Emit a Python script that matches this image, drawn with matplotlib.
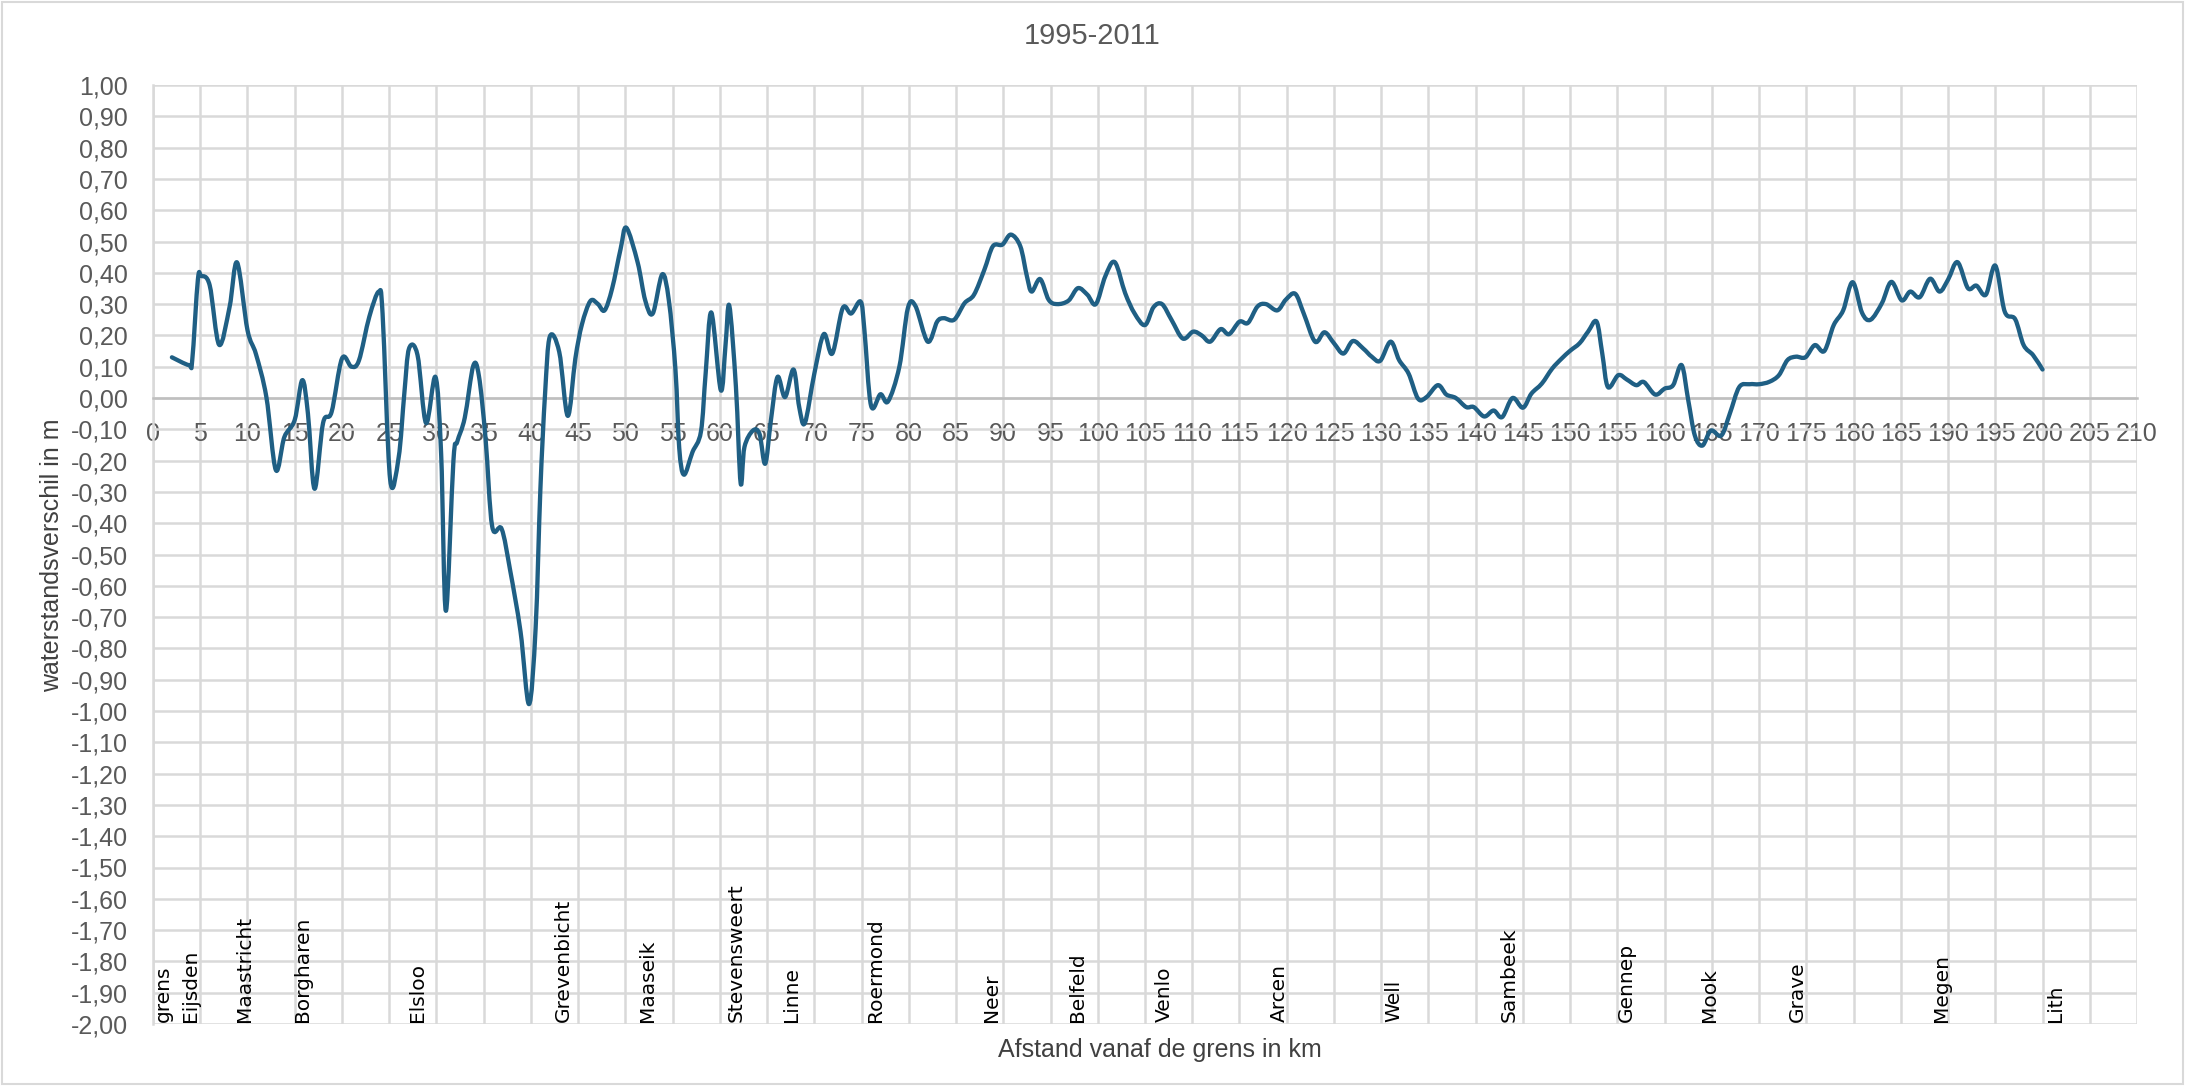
import numpy as np
import matplotlib
matplotlib.use("Agg")
import matplotlib.pyplot as plt
from matplotlib.patches import Rectangle, PathPatch
from matplotlib.path import Path
from matplotlib.ticker import FuncFormatter, MultipleLocator

km = [2.0, 3.8, 4.15, 4.75, 5.1, 6.0, 7.0, 8.1, 8.9, 10.0, 10.9, 12.0, 13.0, 13.9,
      15.0, 15.8, 16.4, 17.1, 18.0, 18.9, 20.0, 21.0, 21.8, 22.9, 23.9, 24.3, 25.1,
      26.0, 26.6, 27.1, 28.0, 28.9, 29.9, 30.5, 31.0, 31.8, 32.2, 33.0, 33.9, 34.5,
      35.2, 35.9, 36.9, 37.8, 38.9, 39.8, 40.5, 41.0, 41.5, 42.0, 43.0, 43.9, 44.7,
      45.4, 46.3, 47.1, 47.8, 48.6, 49.5, 50.1, 51.3, 52.1, 52.9, 53.9, 54.6, 55.3,
      55.7, 56.2, 57.1, 58.0, 58.5, 59.1, 60.1, 60.6, 61.0, 61.7, 62.2, 62.6, 63.5,
      64.2, 64.8, 65.4, 66.1, 66.9, 67.8, 68.4, 69.0, 70.0, 71.0, 71.9, 73.0, 73.9,
      74.9, 75.3, 76.0, 77.0, 77.8, 79.0, 79.9, 80.7, 82.0, 83.0, 83.7, 84.8, 85.9,
      86.9, 88.0, 88.9, 89.9, 90.8, 91.8, 92.5, 93.0, 93.9, 94.8, 95.7, 96.9, 97.9,
      98.9, 99.8, 100.8, 101.8, 102.9, 103.9, 105.0, 105.9, 106.8, 107.8, 109.0,
      110.1, 111.0, 111.9, 113.0, 113.9, 115.0, 115.9, 116.9, 117.8, 119.0, 119.9,
      120.9, 121.8, 123.0, 124.0, 125.0, 126.0, 127.0, 128.1, 129.0, 129.9, 131.0,
      131.9, 132.9, 133.9, 134.8, 136.0, 136.9, 137.9, 139.0, 139.8, 140.9, 141.9,
      142.8, 143.9, 145.0, 145.9, 147.0, 148.1, 149.1, 150.0, 151.0, 151.9, 152.8,
      153.4, 154.0, 155.1, 156.0, 157.0, 157.8, 159.0, 160.0, 160.9, 161.8, 162.5,
      163.2, 164.0, 164.9, 166.0, 166.9, 167.9, 169.0, 170.0, 171.1, 172.1, 173.0,
      173.9, 174.9, 175.9, 176.9, 177.9, 178.9, 179.9, 180.9, 181.8, 183.0, 184.0,
      185.1, 186.0, 187.0, 188.1, 189.1, 190.0, 191.0, 192.1, 193.0, 194.0, 195.0,
      196.0, 197.1, 198.0, 199.0, 200.0]

verschil = [0.13, 0.105, 0.12, 0.378, 0.39, 0.36, 0.17, 0.29, 0.433, 0.217, 0.14, 0.003,
            -0.23, -0.125, -0.07, 0.057, -0.05, -0.29, -0.08, -0.045, 0.126, 0.10, 0.12,
            0.26, 0.34, 0.27, -0.26, -0.19, 0.014, 0.158, 0.137, -0.08, 0.067, -0.18,
            -0.68, -0.20, -0.14, -0.063, 0.103, 0.07, -0.13, -0.41, -0.418, -0.55,
            -0.746, -0.978, -0.735, -0.294, 0.014, 0.196, 0.147, -0.057, 0.125, 0.235,
            0.31, 0.30, 0.28, 0.35, 0.477, 0.544, 0.433, 0.312, 0.27, 0.395, 0.312,
            0.09, -0.16, -0.245, -0.173, -0.107, 0.08, 0.273, 0.025, 0.169, 0.295,
            0.036, -0.272, -0.157, -0.104, -0.115, -0.21, -0.072, 0.067, 0.003, 0.091,
            -0.029, -0.08, 0.078, 0.204, 0.142, 0.287, 0.27, 0.308, 0.217, -0.024,
            0.012, -0.011, 0.1, 0.287, 0.294, 0.18, 0.244, 0.255, 0.25, 0.303, 0.33,
            0.41, 0.485, 0.49, 0.522, 0.485, 0.389, 0.34, 0.38, 0.314, 0.30, 0.311,
            0.351, 0.33, 0.30, 0.389, 0.434, 0.335, 0.27, 0.233, 0.29, 0.30, 0.25,
            0.19, 0.212, 0.20, 0.18, 0.22, 0.204, 0.244, 0.24, 0.292, 0.30, 0.28,
            0.314, 0.333, 0.27, 0.18, 0.21, 0.175, 0.142, 0.182, 0.158, 0.132, 0.119,
            0.18, 0.121, 0.078, -0.002, 0.003, 0.041, 0.011, 0.0, -0.029, -0.029,
            -0.059, -0.04, -0.061, 0.0, -0.031, 0.014, 0.046, 0.094, 0.126, 0.151,
            0.175, 0.212, 0.244, 0.142, 0.035, 0.073, 0.059, 0.041, 0.051, 0.011,
            0.03, 0.041, 0.105, -0.007, -0.12, -0.152, -0.104, -0.12, -0.05, 0.035,
            0.044, 0.044, 0.052, 0.073, 0.121, 0.132, 0.13, 0.169, 0.15, 0.233, 0.28,
            0.37, 0.272, 0.25, 0.303, 0.371, 0.312, 0.34, 0.322, 0.381, 0.34, 0.378,
            0.434, 0.351, 0.359, 0.33, 0.423, 0.276, 0.252, 0.169, 0.137, 0.091]

plaatsen = ["grens", "Eijsden", "Maastricht", "Borgharen", "Elsloo", "Grevenbicht",
            "Maaseik", "Stevensweert", "Linne", "Roermond", "Neer", "Belfeld", "Venlo",
            "Arcen", "Well", "Sambeek", "Gennep", "Mook", "Grave", "Megen", "Lith"]
plaatsen_km = [1.1, 4.0, 9.7, 15.8, 28.0, 43.4, 52.3, 61.7, 67.6, 76.5, 88.8, 97.9,
               107.1, 119.2, 131.3, 143.5, 155.9, 164.8, 174.0, 189.3, 201.4]


def smooth_path(xs, ys):
    # Bezier-pad door alle punten, zoals een "vloeiende lijn" in Excel
    p = np.column_stack([xs, ys])
    verts = [p[0]]
    codes = [Path.MOVETO]
    n = len(p)
    for i in range(n - 1):
        p0 = p[max(i - 1, 0)]
        p1 = p[i]
        p2 = p[i + 1]
        p3 = p[min(i + 2, n - 1)]
        c1 = p1 + (p2 - p0) / 6.0
        c2 = p2 - (p3 - p1) / 6.0
        verts += [c1, c2, p2]
        codes += [Path.CURVE4] * 3
    return Path(verts, codes)


W, H = 2190, 1086
fig = plt.figure(figsize=(W / 100, H / 100), dpi=100)
ax = fig.add_axes([153 / W, 1 - 1024 / H, (2137 - 153) / W, (1024 - 85) / H])

grey = "#d9d9d9"

ax.add_patch(PathPatch(smooth_path(km, verschil), fill=False, edgecolor="#1f5f84",
                       lw=3.1, joinstyle="round", capstyle="round", zorder=3))

ax.set_xlim(0, 210)
ax.set_ylim(-2.0, 1.0)
ax.xaxis.set_major_locator(MultipleLocator(5))
ax.yaxis.set_major_locator(MultipleLocator(0.1))
ax.yaxis.set_major_formatter(FuncFormatter(lambda v, p: f"{v:.2f}".replace(".", ",").replace("-0,00", "0,00")))
ax.xaxis.set_major_formatter(FuncFormatter(lambda v, p: f"{int(round(v))}"))
ax.grid(True, color=grey, lw=1.8, zorder=0)
ax.set_axisbelow(True)

for s in ["top", "right"]:
    ax.spines[s].set_visible(False)
ax.spines["left"].set_color(grey)
ax.spines["left"].set_linewidth(1.8)
ax.spines["bottom"].set_position(("data", 0))
ax.spines["bottom"].set_color("#bfbfbf")
ax.spines["bottom"].set_linewidth(1.8)
ax.tick_params(axis="both", length=0)
ax.tick_params(axis="x", pad=17)
ax.tick_params(axis="y", pad=18)
for lab in ax.get_xticklabels() + ax.get_yticklabels():
    lab.set_fontfamily("Liberation Sans")
    lab.set_fontsize(18)
    lab.set_color("#595959")

# plaatsnamen onderin de grafiek
for naam, k in zip(plaatsen, plaatsen_km):
    ax.text(k, -1.995, naam, rotation=90, ha="center", va="bottom",
            fontsize=14.5, family="DejaVu Sans", color="black", zorder=4)

fig.text(1092 / W, 1 - 36 / H, "1995-2011", ha="center", va="center",
         family="Liberation Sans", fontsize=21, color="#595959")
fig.text(1160 / W, 1 - 1050 / H, "Afstand vanaf de grens in km", ha="center",
         va="center", family="Liberation Sans", fontsize=18, color="#404040")
fig.text(52 / W, 1 - 555 / H, "waterstandsverschil in m", ha="center", va="center",
         rotation=90, family="Liberation Sans", fontsize=18, color="#404040")

fig.patches.append(Rectangle((0.001, 0.002), 0.996, 0.996, transform=fig.transFigure,
                             fill=False, edgecolor=grey, lw=1.5))

fig.savefig("out.png", dpi=100)
